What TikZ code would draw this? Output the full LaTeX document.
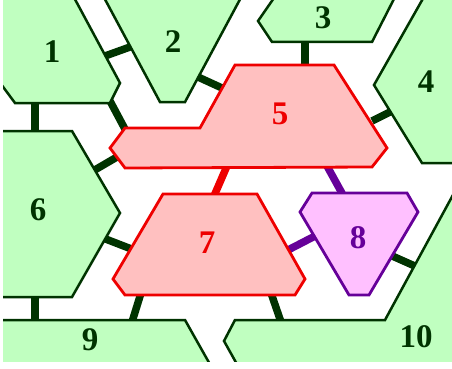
\documentclass[tikz,border=0pt]{standalone}
\usepackage{fontspec}
\setmainfont{Liberation Serif}
\definecolor{gfill}{HTML}{C0FFC0}
\definecolor{gline}{HTML}{003300}
\definecolor{rfill}{HTML}{FFC0C0}
\definecolor{rline}{HTML}{EE0000}
\definecolor{pfill}{HTML}{FFC0FF}
\definecolor{pline}{HTML}{660099}
\begin{document}
\begin{tikzpicture}[x=1pt,y=-1pt,
  green/.style={fill=gfill, draw=gline, line width=2.5pt, line join=miter},
  red/.style={fill=rfill, draw=rline, line width=2.8pt},
  purple/.style={fill=pfill, draw=pline, line width=2.8pt},
  glink/.style={gline, line width=7.5pt},
  rlink/.style={rline, line width=7.5pt},
  plink/.style={pline, line width=7.5pt},
  num/.style={font=\fontsize{33}{33}\selectfont\bfseries, inner sep=0pt}]
\useasboundingbox (0,0) rectangle (452,369);
\clip (3,-20) rectangle (470,361);

% connectors
\draw[glink] (105,56) -- (130,47);
\draw[glink] (198,77) -- (222,88);
\draw[glink] (35,100) -- (35,134);
\draw[glink] (110,101) -- (126,131);
\draw[glink] (93,171) -- (117,157);
\draw[glink] (305,40) -- (305,67);
\draw[glink] (372,121) -- (392,111);
\draw[rlink] (227,166) -- (214,196);
\draw[plink] (327,166) -- (343,195);
\draw[glink] (103,238) -- (134,250);
\draw[plink] (288,250) -- (317,235);
\draw[glink] (390,255) -- (417,267);
\draw[glink] (35,295) -- (35,322);
\draw[glink] (141,293) -- (132,322);
\draw[glink] (271,293) -- (281,322);

% regions
\draw[green] (-5,76) -- (15,103) -- (110,103) -- (120,83) -- (70,-10) -- (-20,-20) -- cycle;
\draw[green] (100,-10) -- (160,102) -- (185,102) -- (245,-10) -- cycle;
\draw[green] (258,21) -- (276,-5) -- (396,-5) -- (372,42) -- (272,42) -- cycle;
\draw[green] (425,-5) -- (374,85) -- (422,163) -- (470,163) -- (470,-5) -- cycle;
\draw[red] (235,65) -- (334,65) -- (387,148) -- (372,167) -- (125,168) -- (110,148) -- (125,128) -- (200,128) -- cycle;
\draw[green] (72,131) -- (120,213) -- (72,297) -- (-10,297) -- (-10,131) -- cycle;
\draw[red] (163,194) -- (257,194) -- (305,279) -- (295,295) -- (125,295) -- (113,279) -- cycle;
\draw[purple] (312,193) -- (407,193) -- (418,212) -- (369,295) -- (349,295) -- (300,212) -- cycle;
\draw[green] (-10,320) -- (185,320) -- (216,375) -- (-10,375) -- cycle;
\draw[green] (224,341) -- (235,320) -- (385,320) -- (460,182) -- (470,182) -- (470,375) -- (243,375) -- cycle;

% labels
\node[num, text=gline] (r1) at (52,52) {1};
\node[num, text=gline] (r2) at (173,42) {2};
\node[num, text=gline] (r3) at (323,18) {3};
\node[num, text=gline] (r4) at (426,82) {4};
\node[num, text=rline] (r5) at (280,114) {5};
\node[num, text=gline] (r6) at (38,210) {6};
\node[num, text=rline] (r7) at (207,243) {7};
\node[num, text=pline] (r8) at (358,238) {8};
\node[num, text=gline] (r9) at (90,340) {9};
\node[num, text=gline] (r10) at (416,337) {10};
\end{tikzpicture}
\end{document}
